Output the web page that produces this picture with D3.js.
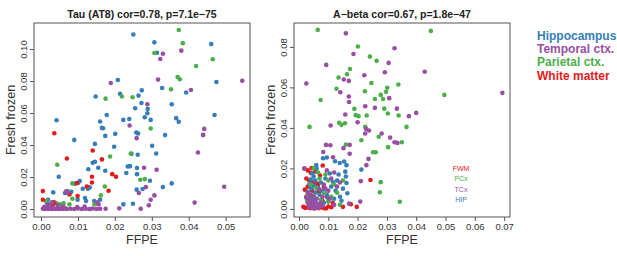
<!DOCTYPE html>
<html>
<head>
<meta charset="utf-8">
<script src="https://d3js.org/d3.v7.min.js"></script>
<style>
body { margin: 0; background: #fff; }
text { font-family: "Liberation Sans", Arial, sans-serif; }
</style>
</head>
<body>
<script>
// region names + colours (R Set1 style)
const regions = ["Hippocampus", "Temporal ctx.", "Parietal ctx.", "White matter"];
const regionColors = ["#377eb8", "#984ea3", "#4daf4a", "#e41a1c"];
const innerLegend = ["FWM", "PCx", "TCx", "HIP"];
const innerColors = ["#e41a1c", "#4daf4a", "#984ea3", "#377eb8"];

const tauTicksX = [0, 0.01, 0.02, 0.03, 0.04, 0.05];
const tauTicksY = [0, 0.02, 0.04, 0.06, 0.08, 0.10];
const abTicksX = [0, 0.01, 0.02, 0.03, 0.04, 0.05, 0.06, 0.07];
const abTicksY = [0, 0.02, 0.04, 0.06, 0.08];

// Tau (AT8): [FFPE, fresh frozen]
const tauHip = [[0.0250,0.1091],[0.0307,0.1042],[0.0314,0.0977],[0.0461,0.1031],[0.0475,0.0794],[0.0208,0.0807],
  [0.0393,0.0728],[0.0328,0.0757],[0.0273,0.0742],[0.0214,0.0721],[0.0264,0.0709],[0.0148,0.0703],[0.0354,0.0655],
  [0.0272,0.0663],[0.0255,0.0630],[0.0289,0.0626],[0.0288,0.0599],[0.0178,0.0588],[0.0223,0.0557],[0.0239,0.0563],
  [0.0160,0.0547],[0.0165,0.0507],[0.0168,0.0505],[0.0042,0.0555],[0.0281,0.0574],[0.0297,0.0557],[0.0366,0.0568],
  [0.0373,0.0545],[0.0470,0.0588],[0.0201,0.0470],[0.0174,0.0457],[0.0258,0.0478],[0.0263,0.0472],[0.0336,0.0462],
  [0.0439,0.0462],[0.0301,0.0395],[0.0198,0.0389],[0.0146,0.0407],[0.0090,0.0432],[0.0312,0.0347],[0.0262,0.0339],
  [0.0245,0.0345],[0.0146,0.0295],[0.0140,0.0289],[0.0155,0.0258],[0.0235,0.0266],[0.0241,0.0268],[0.0260,0.0256],
  [0.0260,0.0218],[0.0231,0.0225],[0.0128,0.0249],[0.0174,0.0239],[0.0048,0.0202],[0.0105,0.0175],[0.0101,0.0164],
  [0.0092,0.0158],[0.0132,0.0135],[0.0127,0.0127],[0.0113,0.0127],[0.0295,0.0177],[0.0330,0.0137],[0.0354,0.0160],
  [0.0259,0.0121],[0.0033,0.0104],[0.0065,0.0100],[0.0070,0.0104],[0.0082,0.0108],[0.0099,0.0058],[0.0119,0.0069],
  [0.0122,0.0050],[0.0144,0.0050],[0.0160,0.0058],[0.0223,0.0029],[0.0249,0.0033],[0.0019,0.0058],[0.0015,0.0044],
  [0.0151,0.0035],[0.0275,0.0125]];
const tauTem = [[0.0189,0.0788],[0.0330,0.0971],[0.0323,0.0938],[0.0380,0.0990],[0.0545,0.0802],[0.0317,0.0809],
  [0.0406,0.0744],[0.0288,0.0655],[0.0240,0.0522],[0.0442,0.0501],[0.0439,0.0464],[0.0259,0.0443],[0.0425,0.0353],
  [0.0279,0.0258],[0.0313,0.0245],[0.0284,0.0137],[0.0265,0.0100],[0.0307,0.0085],[0.0297,0.0058],[0.0292,0.0023],
  [0.0496,0.0139],[0.0416,0.0040],[0.0270,0.0002],[0.0212,0.0004],[0.0175,0.0002],[0.0133,0.0000],[0.0152,0.0042],
  [0.0156,0.0029],[0.0005,0.0002],[0.0010,0.0000],[0.0015,0.0004],[0.0020,0.0000],[0.0025,0.0003],[0.0030,0.0000],
  [0.0035,0.0005],[0.0040,0.0000],[0.0045,0.0003],[0.0050,0.0000],[0.0055,0.0004],[0.0060,0.0000],[0.0065,0.0005],
  [0.0070,0.0000],[0.0080,0.0002],[0.0090,0.0000],[0.0100,0.0003],[0.0110,0.0000],[0.0120,0.0002],[0.0130,0.0000],
  [0.0140,0.0003],[0.0150,0.0000],[0.0160,0.0002],[0.0012,0.0015],[0.0020,0.0030],[0.0030,0.0040],[0.0045,0.0025],
  [0.0060,0.0015],[0.0068,0.0110],[0.0072,0.0100],[0.0008,0.0010],[0.0025,0.0010],[0.0098,0.0012],[0.0118,0.0016]];
const tauPar = [[0.0373,0.1119],[0.0384,0.1037],[0.0307,0.0975],[0.0465,0.0936],[0.0420,0.0894],[0.0370,0.0825],
  [0.0376,0.0811],[0.0352,0.0748],[0.0219,0.0703],[0.0248,0.0699],[0.0175,0.0690],[0.0297,0.0503],[0.0187,0.0328],
  [0.0243,0.0347],[0.0044,0.0277],[0.0269,0.0183],[0.0281,0.0187],[0.0085,0.0160],[0.0072,0.0112],[0.0173,0.0141],
  [0.0162,0.0085],[0.0085,0.0064],[0.0015,0.0050],[0.0042,0.0035],[0.0052,0.0029],[0.0061,0.0035],[0.0077,0.0029],
  [0.0145,0.0029],[0.0030,0.0042]];
const tauWm = [[0.0036,0.0474],[0.0070,0.0316],[0.0140,0.0366],[0.0165,0.0310],[0.0138,0.0202],[0.0193,0.0218],
  [0.0203,0.0202],[0.0138,0.0166],[0.0183,0.0114],[0.0097,0.0162],[0.0099,0.0081],[0.0077,0.0091],[0.0005,0.0112],
  [0.0005,0.0058],[0.0032,0.0029],[0.0035,0.0042],[0.0124,0.0141]];

// A-beta: [FFPE, fresh frozen]
const abHip = [[0.0082,0.0250],[0.0095,0.0254],[0.0123,0.0235],[0.0139,0.0227],[0.0154,0.0234],[0.0162,0.0216],
  [0.0213,0.0194],[0.0158,0.0184],[0.0160,0.0160],[0.0162,0.0128],[0.0116,0.0133],[0.0130,0.0140],[0.0110,0.0110],
  [0.0125,0.0090],[0.0165,0.0077],[0.0140,0.0060],[0.0100,0.0050],[0.0085,0.0030],[0.0059,0.0216],[0.0060,0.0200],
  [0.0045,0.0175],[0.0050,0.0160],[0.0040,0.0145],[0.0055,0.0140],[0.0035,0.0120],[0.0050,0.0115],[0.0065,0.0105],
  [0.0042,0.0100],[0.0030,0.0085],[0.0055,0.0080],[0.0070,0.0070],[0.0040,0.0060],[0.0060,0.0050],[0.0080,0.0090],
  [0.0075,0.0130],[0.0095,0.0070],[0.0120,0.0050],[0.0150,0.0100],[0.0135,0.0170],[0.0105,0.0175],[0.0090,0.0150],
  [0.0145,0.0040],[0.0048,0.0040],[0.0035,0.0030]];
const abTem = [[0.0160,0.0867],[0.0326,0.0793],[0.0186,0.0765],[0.0093,0.0711],[0.0306,0.0721],[0.0293,0.0675],
  [0.0429,0.0677],[0.0025,0.0619],[0.0223,0.0660],[0.0153,0.0639],[0.0170,0.0632],[0.0141,0.0576],[0.0170,0.0555],
  [0.0308,0.0547],[0.0694,0.0573],[0.0226,0.0507],[0.0259,0.0499],[0.0334,0.0495],[0.0400,0.0474],[0.0375,0.0458],
  [0.0171,0.0528],[0.0158,0.0466],[0.0200,0.0428],[0.0108,0.0412],[0.0229,0.0395],[0.0239,0.0387],[0.0226,0.0372],
  [0.0282,0.0372],[0.0311,0.0352],[0.0326,0.0329],[0.0336,0.0326],[0.0092,0.0316],[0.0107,0.0314],[0.0083,0.0281],
  [0.0116,0.0255],[0.0152,0.0300],[0.0173,0.0272],[0.0173,0.0316],[0.0237,0.0247],[0.0230,0.0216],[0.0211,0.0137],
  [0.0018,0.0199],[0.0209,0.0036],[0.0171,0.0026],
  [0.0030,0.0080],[0.0040,0.0070],[0.0050,0.0060],[0.0060,0.0050],[0.0035,0.0045],[0.0045,0.0035],[0.0055,0.0030],
  [0.0065,0.0025],[0.0040,0.0020],[0.0050,0.0015],[0.0060,0.0010],[0.0070,0.0012],[0.0035,0.0010],[0.0045,0.0005],
  [0.0055,0.0003],[0.0065,0.0005],[0.0075,0.0030],[0.0080,0.0060],[0.0090,0.0100],[0.0100,0.0090],[0.0085,0.0120],
  [0.0070,0.0095],[0.0110,0.0150],[0.0120,0.0180],[0.0095,0.0190],[0.0130,0.0110],[0.0140,0.0130],[0.0030,0.0030],
  [0.0025,0.0055],[0.0080,0.0015],[0.0105,0.0050],[0.0120,0.0020]];
const abPar = [[0.0064,0.0884],[0.0450,0.0879],[0.0201,0.0802],[0.0242,0.0752],[0.0265,0.0731],[0.0174,0.0691],
  [0.0135,0.0649],[0.0164,0.0665],[0.0339,0.0614],[0.0074,0.0538],[0.0496,0.0563],[0.0128,0.0593],[0.0225,0.0581],
  [0.0247,0.0622],[0.0301,0.0598],[0.0297,0.0578],[0.0279,0.0563],[0.0259,0.0543],[0.0287,0.0543],[0.0036,0.0405],
  [0.0137,0.0425],[0.0145,0.0415],[0.0157,0.0423],[0.0189,0.0494],[0.0194,0.0463],[0.0203,0.0458],[0.0231,0.0461],
  [0.0291,0.0495],[0.0303,0.0471],[0.0340,0.0461],[0.0367,0.0405],[0.0351,0.0329],[0.0304,0.0305],[0.0272,0.0356],
  [0.0226,0.0405],[0.0213,0.0339],[0.0253,0.0280],[0.0262,0.0280],[0.0160,0.0318],[0.0279,0.0132],[0.0276,0.0082],
  [0.0344,0.0035],
  [0.0050,0.0200],[0.0065,0.0180],[0.0090,0.0170],[0.0100,0.0140],[0.0070,0.0150],[0.0040,0.0120],[0.0060,0.0100],
  [0.0085,0.0080],[0.0030,0.0070],[0.0050,0.0065],[0.0075,0.0045],[0.0100,0.0035],[0.0120,0.0120],[0.0130,0.0080],
  [0.0140,0.0020],[0.0028,0.0040],[0.0110,0.0060],[0.0060,0.0025],[0.0150,0.0140]];
const abWm = [[0.0019,0.0199],[0.0040,0.0178],[0.0043,0.0202],[0.0081,0.0214],[0.0244,0.0143],[0.0030,0.0190],
  [0.0055,0.0185],[0.0072,0.0165],[0.0025,0.0150],[0.0035,0.0140],[0.0048,0.0130],[0.0062,0.0125],[0.0030,0.0110],
  [0.0020,0.0095],[0.0045,0.0090],[0.0068,0.0085],[0.0085,0.0110],[0.0025,0.0060],[0.0050,0.0050],[0.0080,0.0040],
  [0.0015,0.0010],[0.0022,0.0005],[0.0030,0.0008],[0.0038,0.0003],[0.0045,0.0006],[0.0052,0.0002],[0.0060,0.0008],
  [0.0068,0.0004],[0.0075,0.0010],[0.0083,0.0005],[0.0092,0.0002],[0.0100,0.0012],[0.0115,0.0030],[0.0150,0.0010],
  [0.0177,0.0023],[0.0197,0.0010],[0.0095,0.0060],[0.0040,0.0030],[0.0110,0.0008],[0.0065,0.0120]];

const svg = d3.select("body").append("svg")
  .attr("width", 617).attr("height", 256);

function panel(opts) {
  const x = d3.scaleLinear().domain(opts.xDomain).range([opts.left, opts.right]);
  const y = d3.scaleLinear().domain(opts.yDomain).range([opts.bottom, opts.top]);
  const g = svg.append("g");

  // series drawn in order, so later ones sit on top
  opts.series.forEach(s => {
    g.append("g").selectAll("circle")
      .data(s.data).enter().append("circle")
      .attr("cx", d => x(d[0]))
      .attr("cy", d => y(d[1]))
      .attr("r", 2.3)
      .attr("fill", s.color);
  });

  const xa = g.append("g")
    .attr("transform", `translate(0,${opts.bottom})`)
    .call(d3.axisBottom(x).tickValues(opts.xTicks).tickFormat(d3.format(".2f")).tickSize(4).tickPadding(2));
  const ya = g.append("g")
    .attr("transform", `translate(${opts.left},0)`)
    .call(d3.axisLeft(y).tickValues(opts.yTicks).tickFormat(d3.format(".2f")).tickSize(4).tickPadding(2));
  [xa, ya].forEach(a => {
    a.select(".domain").remove();
    a.selectAll("line").attr("stroke", "#555");
    a.selectAll("text").attr("font-size", 9.5).attr("fill", "#333")
      .style("font-family", "Liberation Sans, Arial, sans-serif");
  });
  // rotated y tick labels like R
  ya.selectAll(".tick text")
    .attr("x", null).attr("dy", null).attr("y", 0)
    .attr("text-anchor", "middle")
    .attr("transform", "translate(-7.5,0) rotate(-90)");

  g.append("rect")
    .attr("x", opts.left).attr("y", opts.top)
    .attr("width", opts.right - opts.left).attr("height", opts.bottom - opts.top)
    .attr("fill", "none").attr("stroke", "#555").attr("stroke-width", 1);

  const cx = (opts.left + opts.right) / 2;
  g.append("text").attr("x", cx).attr("y", 18)
    .attr("text-anchor", "middle").attr("font-size", 10.5).attr("font-weight", "bold")
    .attr("fill", "#222").text(opts.title);
  g.append("text").attr("x", cx).attr("y", 244)
    .attr("text-anchor", "middle").attr("font-size", 12.5).attr("fill", "#333").text("FFPE");
  g.append("text")
    .attr("transform", `translate(${opts.left - 19.5},${(opts.top + opts.bottom) / 2}) rotate(-90)`)
    .attr("text-anchor", "middle").attr("font-size", 12.5).attr("fill", "#333").text("Fresh frozen");
  return g;
}

panel({
  left: 34, right: 250, top: 23, bottom: 217,
  xDomain: [-0.0019, 0.0566], yDomain: [-0.005, 0.1163],
  xTicks: tauTicksX, yTicks: tauTicksY,
  title: "Tau (AT8) cor=0.78, p=7.1e\u221275",
  series: [
    {data: tauHip, color: regionColors[0]},
    {data: tauPar, color: regionColors[2]},
    {data: tauWm, color: regionColors[3]},
    {data: tauTem, color: regionColors[1]}
  ]
});

const g2 = panel({
  left: 294, right: 510, top: 23, bottom: 217,
  xDomain: [-0.0017, 0.072], yDomain: [-0.004, 0.0918],
  xTicks: abTicksX, yTicks: abTicksY,
  title: "A\u2212beta cor=0.67, p=1.8e\u221247",
  series: [
    {data: abWm, color: regionColors[3]},
    {data: abHip, color: regionColors[0]},
    {data: abPar, color: regionColors[2]},
    {data: abTem, color: regionColors[1]}
  ]
});

// small legend inside the A-beta panel
g2.selectAll(".inner").data(innerLegend).enter().append("text")
  .attr("x", 461).attr("y", (d, i) => 171 + i * 10.3)
  .attr("text-anchor", "middle").attr("font-size", 7)
  .attr("fill", (d, i) => innerColors[i]).text(d => d);

// region legend on the right
svg.selectAll(".leg").data(regions).enter().append("text")
  .attr("x", 537).attr("y", (d, i) => 39.5 + i * 13.4)
  .attr("font-size", 12).attr("font-weight", "bold")
  .attr("fill", (d, i) => regionColors[i]).text(d => d);
</script>
</body>
</html>
